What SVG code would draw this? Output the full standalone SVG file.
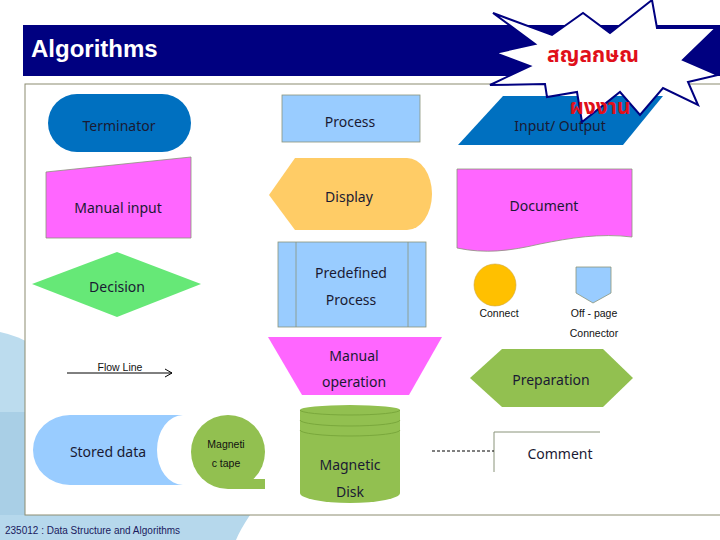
<svg xmlns="http://www.w3.org/2000/svg" width="720" height="540" viewBox="0 0 720 540">
<defs>
<style>
.lbl{font-family:"Noto Sans","Open Sans",sans-serif;font-size:14px;fill:#1a1a33;text-anchor:middle}
.sm{font-family:"Liberation Sans",Arial,sans-serif;font-size:10.5px;fill:#111;text-anchor:middle}
.thin{stroke:#8a947a;stroke-width:0.8}
.thai{font-family:"Noto Sans Thai","Noto Sans","DejaVu Sans",sans-serif;font-size:21px;font-weight:bold;fill:#e0101a;text-anchor:middle}
</style>
<marker id="arr" markerWidth="10" markerHeight="10" refX="8" refY="5" orient="auto" markerUnits="userSpaceOnUse">
<path d="M1,1 L8,5 L1,9" fill="none" stroke="#000" stroke-width="1"/>
</marker>
</defs>
<rect width="720" height="540" fill="#fff"/>
<g id="background">
<circle cx="-20" cy="430" r="100" fill="#bcdcee"/>
<path d="M0,412 H80 V540 H0 Z" fill="#a9cfe6"/>
<path d="M0,515 H250 Q240,530 236,540 H0 Z" fill="#b6d8ec"/>
<rect x="25" y="84" width="700" height="431" fill="#fff" stroke="#8c8c70" stroke-width="1"/>
</g>
<g id="header">
<rect x="23" y="25" width="697" height="51" fill="#000080"/>
<text x="31" y="57" font-family="Liberation Sans,Arial,sans-serif" font-size="24" font-weight="bold" fill="#fff">Algorithms</text>
</g>
<g id="terminator">
<rect x="48" y="94" width="143" height="58" rx="29" ry="29" fill="#0070c0"/>
<text class="lbl" x="119" y="131" fill="#10205a">Terminator</text>
</g>
<g id="manual-input">
<path d="M46,172 L191,157 V238 H46 Z" fill="#ff66ff" class="thin"/>
<text class="lbl" x="118" y="213">Manual input</text>
</g>
<g id="decision">
<path d="M32,284 L117,252 L201,284 L117,317 Z" fill="#66e877"/>
<text class="lbl" x="117" y="292">Decision</text>
</g>
<g id="flow-line">
<text class="sm" x="120" y="371">Flow Line</text>
</g>
<g id="stored-data">
<path d="M70,415 H183 A26 35 0 0 0 183,485 H70 A37 35 0 0 1 70,415 Z" fill="#99ccff"/>
<text class="lbl" x="108" y="457">Stored data</text>
</g>
<g id="magnetic-tape">
<circle cx="228" cy="452" r="37" fill="#92c050"/>
<rect x="228" y="479" width="37" height="10" fill="#92c050"/>
<text class="sm" x="226" y="448" font-size="10">Magneti</text>
<text class="sm" x="226" y="467" font-size="10">c tape</text>
</g>
<g id="process">
<rect x="282" y="95" width="138" height="47" fill="#99ccff" class="thin"/>
<text class="lbl" x="350" y="127">Process</text>
</g>
<g id="display">
<path d="M269,195 L295,158 H407 A25 36 0 0 1 407,230 H295 Z" fill="#ffcc66"/>
<text class="lbl" x="349" y="202">Display</text>
</g>
<g id="predefined-process">
<rect x="278" y="242" width="148" height="85" fill="#99ccff" class="thin"/>
<line x1="296" y1="242" x2="296" y2="327" class="thin"/>
<line x1="408" y1="242" x2="408" y2="327" class="thin"/>
<text class="lbl" x="351" y="278">Predefined</text>
<text class="lbl" x="351" y="305">Process</text>
</g>
<g id="manual-operation">
<path d="M268,337 H442 L409,395 H302 Z" fill="#ff66ff"/>
<text class="lbl" x="354" y="361">Manual</text>
<text class="lbl" x="354" y="387">operation</text>
</g>
<g id="magnetic-disk">
<path d="M300,410 V493 A50 10 0 0 0 400,493 V410 A50 5 0 0 0 300,410 Z" fill="#92c050"/>
<path d="M300,410 A50 5 0 0 0 400,410 M300,420 A50 6 0 0 0 400,420 M300,430 A50 6 0 0 0 400,430" fill="none" stroke="#7aa83c" stroke-width="1"/>
<text class="lbl" x="350" y="470">Magnetic</text>
<text class="lbl" x="350" y="497">Disk</text>
</g>
<g id="input-output">
<path d="M503,96 H663 L623,145 H458 Z" fill="#0070c0"/>
<text class="lbl" x="560" y="131" fill="#10205a">Input/ Output</text>
</g>
<g id="document">
<path d="M457,169 H632 V237 C600,233 570,238 540,244 C510,251 485,254 457,248 Z" fill="#ff66ff" class="thin"/>
<text class="lbl" x="544" y="211">Document</text>
</g>
<g id="connect">
<circle cx="495" cy="285" r="21" fill="#ffc000" stroke="#d0a840" stroke-width="0.6"/>
<text class="sm" x="499" y="317">Connect</text>
</g>
<g id="off-page">
<path d="M576,267 H611 V293 L593,303 L576,293 Z" fill="#99ccff" class="thin"/>
<text class="sm" x="594" y="317">Off - page</text>
<text class="sm" x="594" y="337">Connector</text>
</g>
<g id="preparation">
<path d="M470,378 L502,349 H603 L633,378 L603,407 H502 Z" fill="#92c050"/>
<text class="lbl" x="551" y="385">Preparation</text>
</g>
<g id="comment">
<path d="M600,432 H494 V472" fill="none" stroke="#8a947a" stroke-width="1"/>
<text class="lbl" x="560" y="459" fill="#111">Comment</text>
</g>
<g id="connectors">
<line x1="67" y1="373" x2="172" y2="373" stroke="#000" stroke-width="1" marker-end="url(#arr)"/>
<line x1="432" y1="451" x2="494" y2="451" stroke="#000" stroke-width="1" stroke-dasharray="3,2"/>
</g>
<g id="starburst">
<path d="M493,13 L552,35 L583,13 L610,33 L652,0 L657,28 L716,28 L683,60 L718,75 L688,82 L698,105 L663,88 L640,115 L620,92 L582,122 L577,92 L547,97 L545,84 L490,85 L530,66 L495,53 L535,44 Z" fill="#fff" stroke="#000080" stroke-width="2" stroke-linejoin="miter"/>
<text class="thai" x="593" y="62">สญลกษณ</text>
<text class="thai" x="600" y="114">ผงงาน</text>
</g>
<g id="footer">
<text x="5" y="534" font-family="Liberation Sans,Arial,sans-serif" font-size="10" fill="#1a1a5e">235012 : Data Structure and Algorithms</text>
</g>
</svg>
